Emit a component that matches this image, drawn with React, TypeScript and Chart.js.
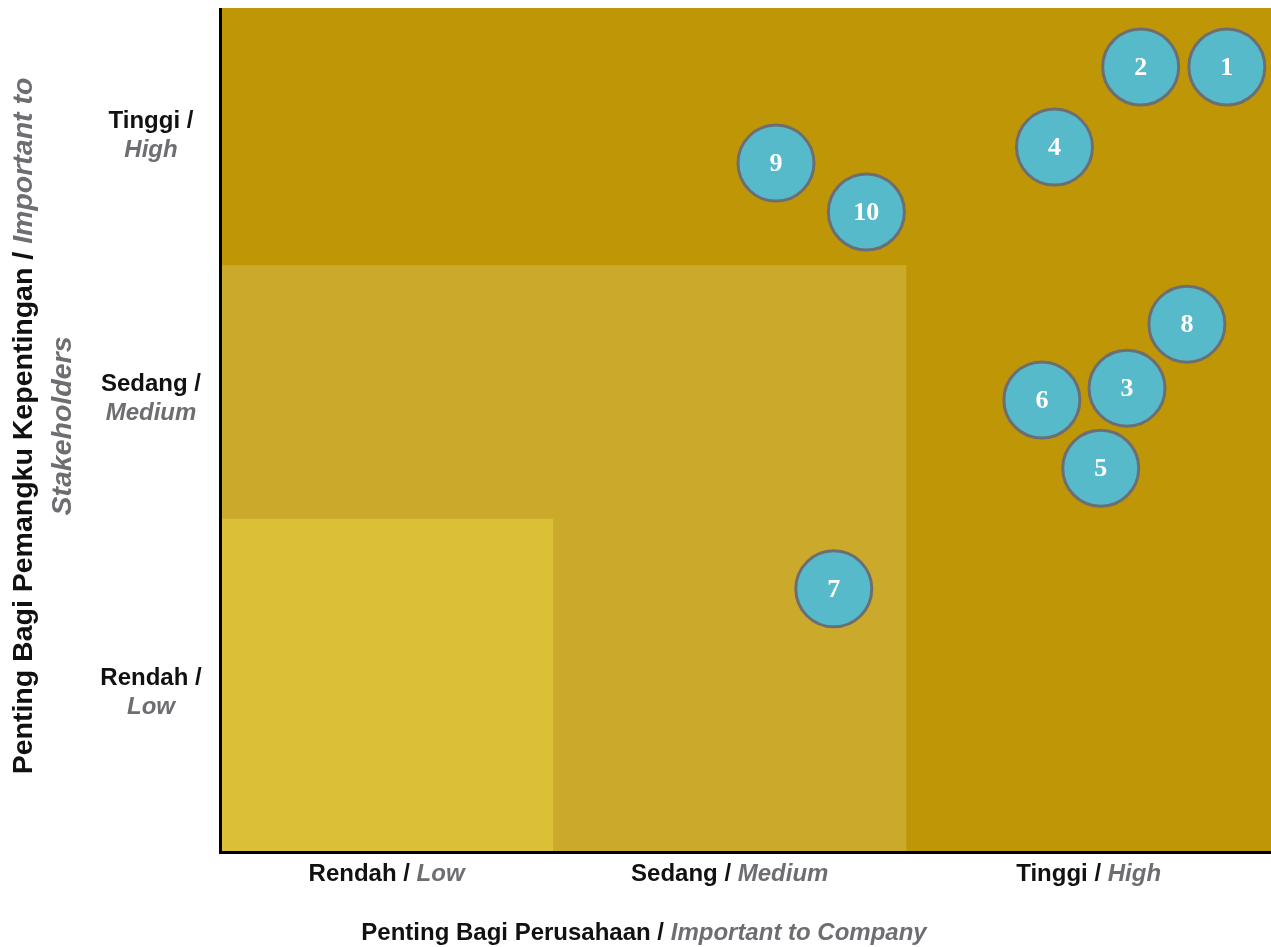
import React, { useEffect, useRef } from "react";
import { Chart, registerables } from "chart.js";

Chart.register(...registerables);

// ---- Data ----
const issueIds = ["1", "2", "3", "4", "5", "6", "7", "8", "9", "10"];
const companyImportance = [95.8, 87.6, 86.3, 79.4, 83.8, 78.2, 58.4, 92.0, 52.9, 61.5];
const stakeholderImportance = [93.0, 93.0, 54.9, 83.5, 45.4, 53.5, 31.1, 62.5, 81.6, 75.8];

const xBandEdges = [0, 31.7, 65.3, 100];
const yBandEdges = [0, 39.4, 69.5, 100];
const xTickMain = ["Rendah / ", "Sedang / ", "Tinggi / "];
const xTickSub = ["Low", "Medium", "High"];
const yTickMain = ["Rendah /", "Sedang /", "Tinggi /"];
const yTickSub = ["Low", "Medium", "High"];
const xTitleMain = "Penting Bagi Perusahaan / ";
const xTitleSub = "Important to Company";
const yTitleMain = "Penting Bagi Pemangku Kepentingan / ";
const yTitleSub1 = "Important to";
const yTitleSub2 = "Stakeholders";

const DARK = "#BF9605";
const MID = "#CBAA2B";
const LIGHT = "#DBBF36";
const BUBBLE = "#56BACA";
const BORDER = "#6D6E71";
const GREY = "#6D6E71";
const FONT = "'Liberation Sans', Arial, sans-serif";
// small vertical nudges of the two-line y tick labels (px, relative to band centre)
const yTickNudge = [8, 7, 0];

type Seg = { t: string; italic?: boolean; color: string };

function drawSegs(ctx: CanvasRenderingContext2D, segs: Seg[], cx: number, y: number, size: number) {
  const fonts = segs.map((s) => `${s.italic ? "italic " : ""}bold ${size}px ${FONT}`);
  let total = 0;
  const widths = segs.map((s, i) => {
    ctx.font = fonts[i];
    const w = ctx.measureText(s.t).width;
    total += w;
    return w;
  });
  let x = cx - total / 2;
  ctx.textAlign = "left";
  ctx.textBaseline = "middle";
  segs.forEach((s, i) => {
    ctx.font = fonts[i];
    ctx.fillStyle = s.color;
    ctx.fillText(s.t, x, y);
    x += widths[i];
  });
}

const matrixPlugin = {
  id: "matrix",
  beforeDatasetsDraw(chart: any) {
    const ctx = chart.ctx as CanvasRenderingContext2D;
    const xs = chart.scales.x;
    const ys = chart.scales.y;
    const fills = [DARK, MID, LIGHT];
    ctx.save();
    // nested bands
    for (let i = 0; i < 3; i++) {
      const x0 = xs.getPixelForValue(xBandEdges[0]);
      const x1 = xs.getPixelForValue(xBandEdges[3 - i]);
      const yTop = ys.getPixelForValue(yBandEdges[3 - i]);
      const yBot = ys.getPixelForValue(yBandEdges[0]);
      ctx.fillStyle = fills[i];
      ctx.fillRect(x0, yTop, x1 - x0, yBot - yTop);
    }
    // axes lines
    const area = chart.chartArea;
    ctx.strokeStyle = "#000";
    ctx.lineWidth = 3;
    ctx.beginPath();
    ctx.moveTo(area.left + 0.5, area.top);
    ctx.lineTo(area.left + 0.5, area.bottom + 1.5);
    ctx.lineTo(area.right, area.bottom + 1.5);
    ctx.stroke();

    // x tick labels
    for (let i = 0; i < 3; i++) {
      const cx = (xs.getPixelForValue(xBandEdges[i]) + xs.getPixelForValue(xBandEdges[i + 1])) / 2;
      drawSegs(ctx, [
        { t: xTickMain[i], color: "#111" },
        { t: xTickSub[i], italic: true, color: GREY },
      ], cx, area.bottom + 23, 24);
    }
    // y tick labels
    for (let i = 0; i < 3; i++) {
      const cy = (ys.getPixelForValue(yBandEdges[i]) + ys.getPixelForValue(yBandEdges[i + 1])) / 2 + yTickNudge[i];
      drawSegs(ctx, [{ t: yTickMain[i], color: "#111" }], 151, cy - 15, 24);
      drawSegs(ctx, [{ t: yTickSub[i], italic: true, color: GREY }], 151, cy + 14, 24);
    }
    // x title
    drawSegs(ctx, [
      { t: xTitleMain, color: "#111" },
      { t: xTitleSub, italic: true, color: GREY },
    ], 644, 933, 24);
    // y title
    ctx.save();
    ctx.translate(0, 426);
    ctx.rotate(-Math.PI / 2);
    drawSegs(ctx, [
      { t: yTitleMain, color: "#111" },
      { t: yTitleSub1, italic: true, color: GREY },
    ], 0, 24, 28.5);
    drawSegs(ctx, [{ t: yTitleSub2, italic: true, color: GREY }], 0, 63, 28.5);
    ctx.restore();
    ctx.restore();
  },
  afterDatasetsDraw(chart: any) {
    const ctx = chart.ctx as CanvasRenderingContext2D;
    const meta = chart.getDatasetMeta(0);
    ctx.save();
    ctx.fillStyle = "#fff";
    ctx.font = "bold 26px 'Liberation Serif', 'DejaVu Serif', serif";
    ctx.textAlign = "center";
    ctx.textBaseline = "middle";
    meta.data.forEach((el: any, i: number) => {
      ctx.fillText(issueIds[i], el.x, el.y + 1);
    });
    ctx.restore();
  },
};

export default function App() {
  const ref = useRef<HTMLCanvasElement>(null);
  useEffect(() => {
    if (!ref.current) return;
    const chart = new Chart(ref.current, {
      type: "bubble",
      data: {
        datasets: [
          {
            data: issueIds.map((_, i) => ({ x: companyImportance[i], y: stakeholderImportance[i], r: 38 })),
            backgroundColor: BUBBLE,
            borderColor: BORDER,
            borderWidth: 3,
            hoverRadius: 0,
            clip: false,
          },
        ],
      },
      options: {
        responsive: false,
        animation: false,
        layout: { autoPadding: false, padding: { left: 220, top: 8, right: 0, bottom: 96 } },
        plugins: { legend: { display: false }, tooltip: { enabled: false } },
        events: [],
        scales: {
          x: { type: "linear", min: 0, max: 100, display: false },
          y: { type: "linear", min: 0, max: 100, display: false },
        },
      },
      plugins: [matrixPlugin],
    });
    return () => chart.destroy();
  }, []);
  return (
    <div style={{ position: "fixed", left: 0, top: 0, width: 1271, height: 947, background: "#fff" }}>
      <canvas ref={ref} width={1271} height={947} style={{ display: "block", width: 1271, height: 947 }} />
    </div>
  );
}
